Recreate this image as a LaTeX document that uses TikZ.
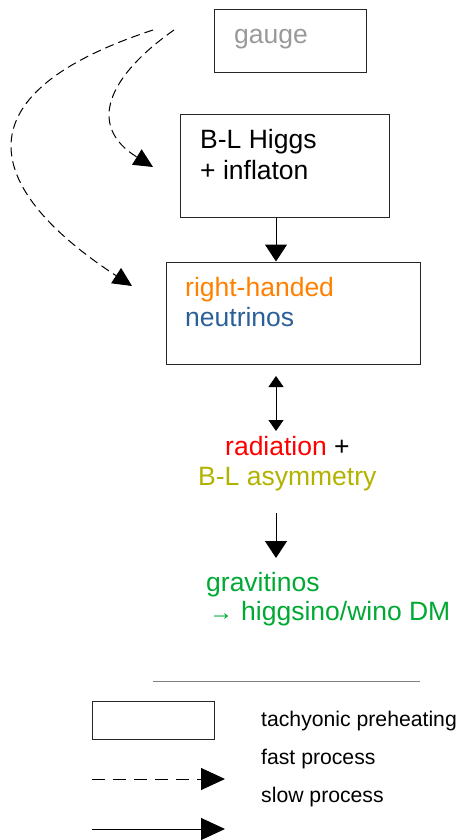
\documentclass[tikz,border=0pt]{standalone}
\usepackage{fontspec}
\setmainfont{Liberation Sans}
\usetikzlibrary{arrows.meta}
\definecolor{cgray}{HTML}{999999}
\definecolor{corange}{HTML}{FF8000}
\definecolor{cblue}{HTML}{2A6099}
\definecolor{cred}{HTML}{FF0000}
\definecolor{colive}{HTML}{B2B200}
\definecolor{cgreen}{HTML}{00A933}
\definecolor{cline}{HTML}{808080}
\tikzset{
  box/.style={draw=black!85, line width=1pt, minimum width=#1, inner sep=0pt},
  big/.style={anchor=base west, inner sep=0pt, font=\fontsize{26.5}{30}\selectfont},
  small/.style={anchor=base west, inner sep=0pt, font=\fontsize{21.2}{25}\selectfont},
  solidarrow/.style={line width=1pt, -{Triangle[length=17pt,width=22pt]}},
  duoarrow/.style={line width=1pt, {Triangle[length=11pt,width=15pt]}-{Triangle[length=11pt,width=15pt]}},
  fastarrow/.style={line width=1pt, dash pattern=on 9pt off 5pt, -{Triangle[length=19pt,width=18pt]}},
  legdash/.style={line width=1pt, dash pattern=on 13pt off 8pt, -{Triangle[length=24pt,width=22pt]}},
  legsolid/.style={line width=1pt, -{Triangle[length=24pt,width=22pt]}},
}
\begin{document}
\begin{tikzpicture}[x=1pt,y=-1pt]
\useasboundingbox (0,0) rectangle (461,840);
% boxes
\node[box=152pt, minimum height=63pt] (gauge) at (290,41.5) {};
\node[box=209pt, minimum height=102pt] (higgs) at (284.5,166) {};
\node[box=254pt, minimum height=102pt] (rhn) at (293,313) {};
% texts
\node[big, text=cgray] (tgauge) at (234,44) {gauge};
\node[big] (thiggs1) at (200,149) {B-L Higgs};
\node[big] (thiggs2) at (200,179) {+ inflaton};
\node[big, text=corange] (trhn1) at (185,296) {right-handed};
\node[big, text=cblue] (trhn2) at (185,326) {neutrinos};
\node[big] (trad) at (225,455) {\textcolor{cred}{radiation} +};
\node[big, text=colive] (tasym) at (198,485) {B-L asymmetry};
\node[big, text=cgreen] (tgrav) at (206,591) {gravitinos};
\node[big, text=cgreen] (tdm) at (209,620) {{\fontsize{24}{26}\selectfont →}\hspace{8pt}higgsino/wino DM};
% connectors
\draw[solidarrow] ([xshift=-8.5pt]higgs.south) -- ([xshift=-17pt]rhn.north);
\coordinate (d1) at (276,376);
\coordinate (d2) at (276,431);
\draw[duoarrow] (d1) -- (d2);
\coordinate (s1) at (276,513);
\coordinate (s2) at (276,558);
\draw[solidarrow] (s1) -- (s2);
\coordinate (c1) at (153,30);
\coordinate (c2) at (174,30);
\coordinate (e1) at (132,286);
\coordinate (e2) at (153,167);
\draw[fastarrow] (c1) .. controls (-60,100) and (0,200) .. (e1);
\draw[fastarrow] (c2) .. controls (110,75) and (85,125) .. (e2);
% legend
\coordinate (l1) at (153,681);
\coordinate (l2) at (420,681);
\draw[cline, line width=1pt] (l1) -- (l2);
\node[box=122pt, minimum height=38pt] (lbox) at (153,720) {};
\node[small] (ttach) at (261,726) {tachyonic preheating};
\node[small] (tfast) at (261,764) {fast process};
\node[small] (tslow) at (261,802) {slow process};
\coordinate (a1) at (92,779);
\coordinate (a2) at (225,779);
\coordinate (b1) at (92,829);
\coordinate (b2) at (225,829);
\draw[legdash] (a1) -- (a2);
\draw[legsolid] (b1) -- (b2);
\end{tikzpicture}
\end{document}
